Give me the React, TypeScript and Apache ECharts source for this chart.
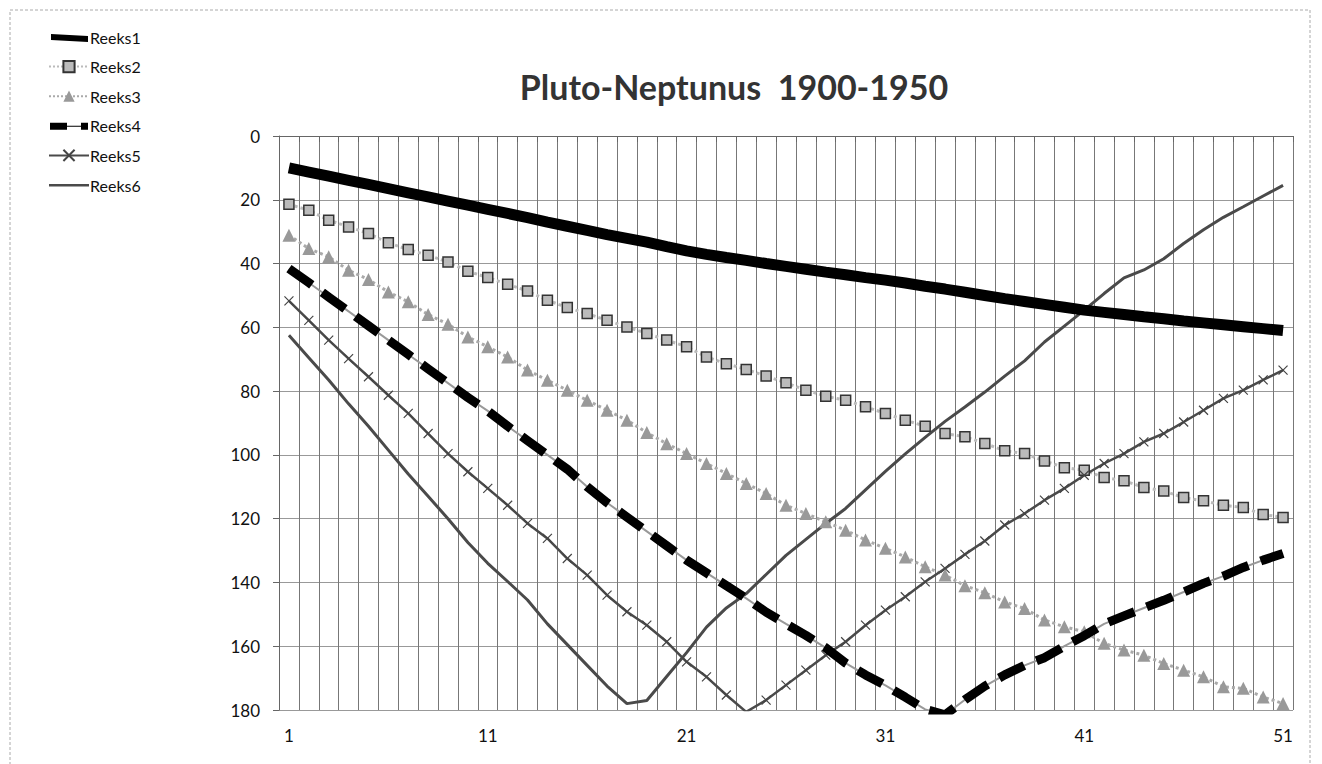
import React, { useEffect, useRef } from "react";
import * as echarts from "echarts";

const categories = [
  "1","2","3","4","5","6","7","8","9","10","11","12","13","14","15","16","17","18","19","20",
  "21","22","23","24","25","26","27","28","29","30","31","32","33","34","35","36","37","38","39","40",
  "41","42","43","44","45","46","47","48","49","50","51",
];

const reeks1 = [
  10, 11.3, 12.6, 13.9, 15.2, 16.5, 17.8, 19.1, 20.4, 21.7, 23, 24.3, 25.6, 27, 28.3, 29.6, 30.9, 32.1, 33.3, 34.7,
  36, 37.1, 38.1, 39, 40, 40.9, 41.8, 42.7, 43.5, 44.4, 45.2, 46.1, 47.1, 48, 49, 50, 51, 51.9, 52.8, 53.7,
  54.6, 55.3, 56, 56.7, 57.3, 58, 58.6, 59.2, 59.8, 60.4, 61,
];
const reeks2 = [
  21.4, 23.3, 26.4, 28.5, 30.6, 33.5, 35.6, 37.4, 39.5, 42.4, 44.4, 46.5, 48.6, 51.5, 53.8, 55.7, 57.8, 59.9, 61.9, 64.0,
  66.1, 69.3, 71.4, 73.2, 75.3, 77.4, 79.7, 81.6, 82.9, 84.9, 87.0, 89.1, 91.0, 93.3, 94.3, 96.4, 98.7, 99.6, 101.9, 104.0,
  104.8, 107.1, 108.1, 110.2, 111.3, 113.4, 114.4, 115.8, 116.5, 118.7, 119.6,
];
const reeks3 = [
  31.1, 35.3, 37.9, 42.1, 45.0, 48.9, 52.0, 56.0, 59.0, 63.0, 66.1, 69.3, 73.4, 76.6, 79.7, 82.9, 86.0, 89.1, 93.0, 96.5,
  99.6, 102.7, 105.8, 109.0, 112.1, 115.8, 118.4, 121.0, 123.6, 126.7, 129.3, 132.0, 135.1, 137.7, 141.0, 143.2, 146.1, 148.2, 151.8, 153.9,
  155.5, 159.1, 161.2, 162.8, 165.4, 167.5, 169.6, 172.7, 173.2, 175.9, 178.0,
];
const reeks4 = [
  41.6, 46, 50.5, 55, 59.5, 64, 68.5, 73, 77.5, 82, 86.2, 91, 95.5, 100, 104.5, 110, 115, 119.5, 124, 128.5,
  133, 137, 141, 145, 149.3, 153, 156.6, 160.5, 165.3, 169, 172.3, 176, 179.8, 181.5, 176.8, 172.5, 169, 166, 163.6, 160,
  156.7, 153, 150.5, 148, 145.6, 143, 140.3, 138, 135.3, 133, 130.9,
];
const reeks5 = [
  51.7, 57.8, 64.0, 69.8, 75.5, 81.3, 87.0, 93.3, 99.6, 105.3, 110.5, 115.8, 121.5, 126.2, 132.5, 137.7, 144.0, 149.2, 153.4, 158.6,
  164.9, 169.6, 175.3, 180.6, 176.9, 172.2, 167.5, 162.8, 158.6, 153.4, 148.7, 144.5, 139.8, 135.6, 131.2, 127.0, 122.0, 118.4, 114.2, 110.5,
  106.4, 102.7, 99.6, 95.9, 93.3, 89.7, 86.0, 82.3, 79.7, 76.5, 73.4,
];
const reeks6 = [
  62.5, 69.5, 76.5, 84, 91, 98.5, 106, 113, 120, 127.5, 134, 139.7, 145.5, 153, 159.5, 166, 172.5, 178, 177, 169.5,
  162, 154, 148, 143.5, 137.5, 131.5, 126.5, 121.5, 116.8, 111, 105.2, 99.7, 94.5, 89.5, 85, 80.3, 75.3, 70.5, 64.6, 59.6,
  54.6, 49.4, 44.5, 42, 38.5, 33.7, 29.4, 25.5, 22.2, 18.8, 15.5,
];

const seriesNames = ["Reeks1", "Reeks2", "Reeks3", "Reeks4", "Reeks5", "Reeks6"];
const yTicks = [0, 20, 40, 60, 80, 100, 120, 140, 160, 180];
const titleText = "Pluto-Neptunus  1900-1950";

const FONT = "Lato, 'Open Sans', sans-serif";

// legend icons (bounds padded with degenerate sub-paths so they keep their thickness)
const PAD = "M0,0L0.1,0M0,14L0.1,14";
const iconThick = "path://" + PAD + "M1,4L38,6L38,12L1,10Z";
const iconDash = "path://" + PAD + "M0,4L17,4L17,11L0,11ZM17,7L31,7L31,8L17,8ZM31,4L38,4L38,11L31,11Z";
const iconThin = "path://" + PAD + "M0,6L40,6L40,8.5L0,8.5Z";

export default function App() {
  const ref = useRef<HTMLDivElement>(null);
  useEffect(() => {
    document.body.style.margin = "0";
    const chart = echarts.init(ref.current!, null, { renderer: "svg" });
    const crossPath = "path://M0,0L10,10M10,0L0,10";
    chart.setOption({
      animation: false,
      backgroundColor: "#fff",
      textStyle: { fontFamily: FONT },
      title: {
        text: titleText,
        left: 729,
        textAlign: "center",
        top: 64,
        textStyle: { fontFamily: FONT, fontSize: 34, fontWeight: "bold", color: "#333" },
      },
      legend: {
        orient: "vertical",
        left: 43,
        top: 24,
        itemWidth: 40,
        itemHeight: 14,
        itemGap: 13.6,
        data: [
          { name: seriesNames[0], icon: iconThick },
          { name: seriesNames[1] },
          { name: seriesNames[2] },
          { name: seriesNames[3], icon: iconDash },
          { name: seriesNames[4] },
          { name: seriesNames[5], icon: iconThin },
        ],
        textStyle: { fontFamily: FONT, fontSize: 16, color: "#111", padding: [0, 0, 0, -4] },
      },
      graphic: [
        {
          type: "rect",
          shape: { x: 10, y: 10, width: 1300, height: 760 },
          style: { fill: "none", stroke: "#aaa", lineWidth: 1, lineDash: [3, 2] },
          silent: true,
        },
      ],
      grid: { left: 279, right: 29, top: 136, bottom: 54 },
      xAxis: {
        type: "category",
        data: categories,
        boundaryGap: true,
        axisLine: { lineStyle: { color: "#666", width: 1 } },
        axisTick: { show: true, interval: 0, length: 6, lineStyle: { color: "#666" } },
        axisLabel: { interval: 9, margin: 17, fontSize: 17, color: "#111", fontFamily: FONT },
        splitLine: { show: true, interval: 0, lineStyle: { color: "#777", width: 1 } },
      },
      yAxis: {
        type: "value",
        inverse: true,
        min: yTicks[0],
        max: yTicks[yTicks.length - 1],
        interval: 20,
        axisLine: { show: true, lineStyle: { color: "#666" } },
        axisTick: { show: true, length: 6, lineStyle: { color: "#666" } },
        axisLabel: { margin: 19, fontSize: 17, color: "#111", fontFamily: FONT },
        splitLine: { show: true, lineStyle: { color: "#999", width: 1 } },
      },
      series: [
        {
          name: seriesNames[0],
          type: "line",
          data: reeks1,
          symbol: "none",
          lineStyle: { color: "#000", width: 11 },
          itemStyle: { color: "#000" },
          z: 5,
        },
        {
          name: seriesNames[1],
          type: "line",
          data: reeks2,
          symbol: "rect",
          symbolSize: 10,
          lineStyle: { color: "#bbb", width: 3, type: "dotted" },
          itemStyle: { color: "#bbb", borderColor: "#333", borderWidth: 1.5 },
          z: 3,
        },
        {
          name: seriesNames[2],
          type: "line",
          data: reeks3,
          symbol: "triangle",
          symbolSize: 13,
          lineStyle: { color: "#aaa", width: 3, type: "dotted" },
          itemStyle: { color: "#999" },
          z: 3,
        },
        {
          name: "Reeks4-verbinding",
          type: "line",
          data: reeks4,
          symbol: "none",
          lineStyle: { color: "#999", width: 2 },
          z: 4,
          silent: true,
        },
        {
          name: seriesNames[3],
          type: "line",
          data: reeks4,
          symbol: "none",
          lineStyle: { color: "#000", width: 9, type: [28, 13] },
          itemStyle: { color: "#000" },
          z: 4,
        },
        {
          name: seriesNames[4],
          type: "line",
          data: reeks5,
          symbol: crossPath,
          symbolSize: 9,
          lineStyle: { color: "#4a4a4a", width: 2.5 },
          itemStyle: { color: "#444", borderColor: "#444", borderWidth: 1.2 },
          z: 3,
        },
        {
          name: seriesNames[5],
          type: "line",
          data: reeks6,
          symbol: "none",
          lineStyle: { color: "#4a4a4a", width: 3 },
          itemStyle: { color: "#4a4a4a" },
          z: 3,
        },
      ],
    });
    return () => chart.dispose();
  }, []);
  return <div ref={ref} style={{ position: "absolute", left: 0, top: 0, width: 1322, height: 764 }} />;
}
